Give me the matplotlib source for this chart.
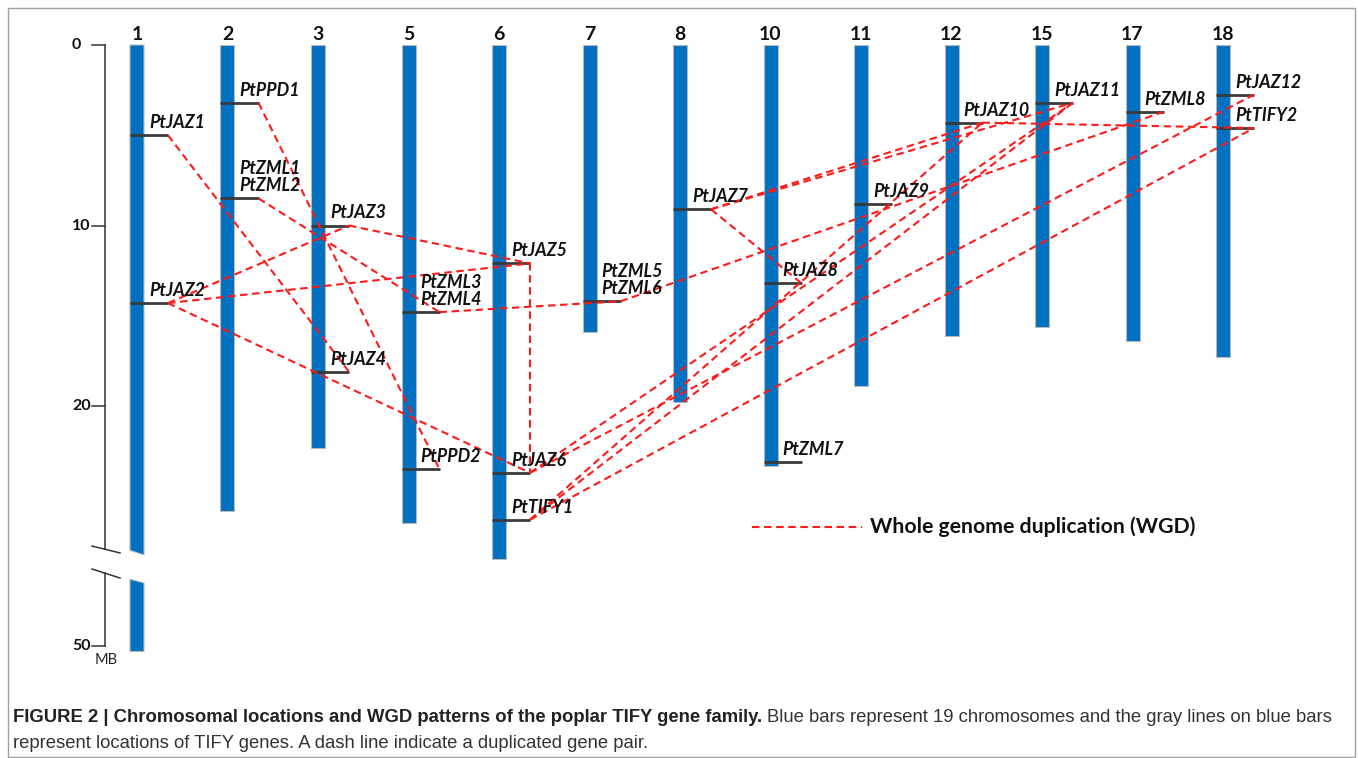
import matplotlib
matplotlib.use('Agg')
import matplotlib.pyplot as plt
from matplotlib.patches import Polygon, Rectangle
from matplotlib import font_manager

# chromosomes and their lengths (MB)
chroms = ['1', '2', '3', '5', '6', '7', '8', '10', '11', '12', '15', '17', '18']
chrom_len = [50.3, 25.8, 22.3, 26.5, 28.5, 15.9, 19.8, 23.3, 18.9, 16.1, 15.6, 16.4, 17.3]

# TIFY gene loci: label, chromosome, position (MB)
gene_names = ['PtJAZ1', 'PtJAZ2', 'PtPPD1', 'PtZML1/PtZML2', 'PtJAZ3', 'PtJAZ4',
              'PtZML3/PtZML4', 'PtPPD2', 'PtJAZ5', 'PtJAZ6', 'PtTIFY1',
              'PtZML5/PtZML6', 'PtJAZ7', 'PtJAZ8', 'PtZML7', 'PtJAZ9', 'PtJAZ10',
              'PtJAZ11', 'PtZML8', 'PtJAZ12', 'PtTIFY2']
gene_chrom = ['1', '1', '2', '2', '3', '3', '5', '5', '6', '6', '6', '7', '8',
              '10', '10', '11', '12', '15', '17', '18', '18']
gene_pos = [5.0, 14.3, 3.2, 8.5, 10.0, 18.1, 14.8, 23.5, 12.1, 23.7, 26.3,
            14.2, 9.1, 13.2, 23.1, 8.8, 4.3, 3.2, 3.7, 2.75, 4.6]

# whole genome duplication pairs
wgd_pairs = [('PtJAZ1', 'PtJAZ4'), ('PtPPD1', 'PtPPD2'), ('PtZML2', 'PtZML4'),
             ('PtJAZ2', 'PtJAZ3'), ('PtJAZ3', 'PtJAZ5'), ('PtJAZ2', 'PtJAZ5'),
             ('PtJAZ2', 'PtJAZ6'), ('PtJAZ5', 'PtJAZ6'), ('PtZML4', 'PtZML6'),
             ('PtZML6', 'PtZML8'), ('PtJAZ7', 'PtJAZ8'), ('PtJAZ7', 'PtJAZ10'),
             ('PtJAZ7', 'PtJAZ11'), ('PtTIFY1', 'PtJAZ10'), ('PtTIFY1', 'PtJAZ11'),
             ('PtJAZ6', 'PtJAZ11'), ('PtJAZ6', 'PtJAZ12'), ('PtTIFY1', 'PtTIFY2'),
             ('PtJAZ10', 'PtTIFY2')]

yticks = [0, 10, 20, 50]

# fonts
names = set(f.name for f in font_manager.fontManager.ttflist)
main_font = ['Lato', 'DejaVu Sans'] if 'Lato' in names else ['Open Sans', 'DejaVu Sans']
cap_font = ['Liberation Sans', 'DejaVu Sans']
plt.rcParams['font.family'] = main_font

W, H = 1358, 758
fig = plt.figure(figsize=(W / 100, H / 100), dpi=100)
ax = fig.add_axes([0, 0, 1, 1])
# 1 chromosome step = 90.5 px, 1 MB = 18.05 px
ax.set_xlim(-137 / 90.5, (W - 137) / 90.5)
ax.set_ylim((H - 45) / 18.05, -45 / 18.05)
ax.axis('off')

PX = 1 / 90.5
PY = 1 / 18.05
SHIFT = 16.7          # MB removed by the axis break


def disp(y):
    return y - SHIFT if y > 40 else y


xpos = {c: i for i, c in enumerate(chroms)}
bw = 14 * PX
blue = '#0070C0'
red = '#FF1A1A'
dash = (0, (3.6, 2.2))

# chromosome bars
for c, L in zip(chroms, chrom_len):
    x = xpos[c]
    if L > 40:
        # broken chromosome
        top = Polygon([(x - bw / 2, 0), (x + bw / 2, 0), (x + bw / 2, 28.25), (x - bw / 2, 28.0)],
                      closed=True, fc=blue, ec='#b8b8b8', lw=0.8, zorder=2)
        bot = Polygon([(x - bw / 2, 29.6), (x + bw / 2, 29.8), (x + bw / 2, disp(L)), (x - bw / 2, disp(L))],
                      closed=True, fc=blue, ec='#b8b8b8', lw=0.8, zorder=2)
        ax.add_patch(top)
        ax.add_patch(bot)
    else:
        ax.bar(x, L, bottom=0, width=bw, color=blue, edgecolor='#b8b8b8', lw=0.8, zorder=2)
    ax.text(x, -0.6, c, ha='center', va='center', fontsize=14, fontweight='bold', color='#111111')

# gene markers and labels
gene_end = {}
for name, c, p in zip(gene_names, gene_chrom, gene_pos):
    x = xpos[c]
    x1 = x + 31 * PX
    ax.plot([x - bw / 2, x1], [p, p], color='#3a3a3a', lw=2.0, solid_capstyle='butt', zorder=3)
    for n in name.split('/'):
        gene_end[n] = (x1, p)
    ax.text(x + 12 * PX, p - 7 * PY, name.replace('/', '\n'), ha='left', va='baseline',
            fontsize=12.8, fontweight='bold', fontstyle='italic', color='#111111',
            linespacing=1.02, zorder=5)

# duplication lines
for a, b in wgd_pairs:
    (xa, ya), (xb, yb) = gene_end[a], gene_end[b]
    ax.plot([xa, xb], [ya, yb], color=red, lw=1.5, linestyle=dash, zorder=4)

# scale bar with break
xa = -32 * PX
ax.plot([xa, xa], [0, 27.94], color='#333333', lw=1.1)
ax.plot([xa, xa], [29.25, disp(50)], color='#333333', lw=1.1)
ax.plot([-45 * PX, -17 * PX], [27.76, 28.14], color='#333333', lw=1.1)
ax.plot([-45 * PX, -17 * PX], [29.03, 29.53], color='#333333', lw=1.1)
for t in yticks:
    ax.plot([-45 * PX, xa], [disp(t), disp(t)], color='#333333', lw=1.1)
    ax.text(-65 * PX, disp(t), str(t), ha='left', va='center', fontsize=11.5,
            fontweight='bold', color='#111111')
ax.text(-42 * PX, disp(50) + 0.75, 'MB', ha='left', va='center', fontsize=10.5, color='#222222')

# legend
ax.plot([(752 - 137) * PX, (862 - 137) * PX], [26.7, 26.7], color=red, lw=1.5, linestyle=dash)
ax.text((870 - 137) * PX, 26.7, 'Whole genome duplication (WGD)', ha='left', va='center',
        fontsize=15.3, fontweight='bold', color='#111111')

# frame
fig.patches.append(Rectangle((8 / W, 1 / H), (1355 - 8) / W, (757 - 8) / H, transform=fig.transFigure,
                             fill=False, ec='#a0a0a0', lw=1.0))

# caption
fig.canvas.draw()
r = fig.canvas.get_renderer()
t1 = fig.text(13 / W, 1 - 718 / H, 'FIGURE 2 | Chromosomal locations and WGD patterns of the poplar TIFY gene family.',
              family=cap_font, fontsize=13.3, fontweight='bold', ha='left', va='center', color='#222222')
bb = t1.get_window_extent(r)
fig.text(bb.x1 / W + 5 / W, 1 - 718 / H,
         'Blue bars represent 19 chromosomes and the gray lines on blue bars',
         family=cap_font, fontsize=13.3, ha='left', va='center', color='#333333')
fig.text(13 / W, 1 - 743 / H, 'represent locations of TIFY genes. A dash line indicate a duplicated gene pair.',
         family=cap_font, fontsize=13.3, ha='left', va='center', color='#333333')

fig.savefig('out.png', dpi=100)
